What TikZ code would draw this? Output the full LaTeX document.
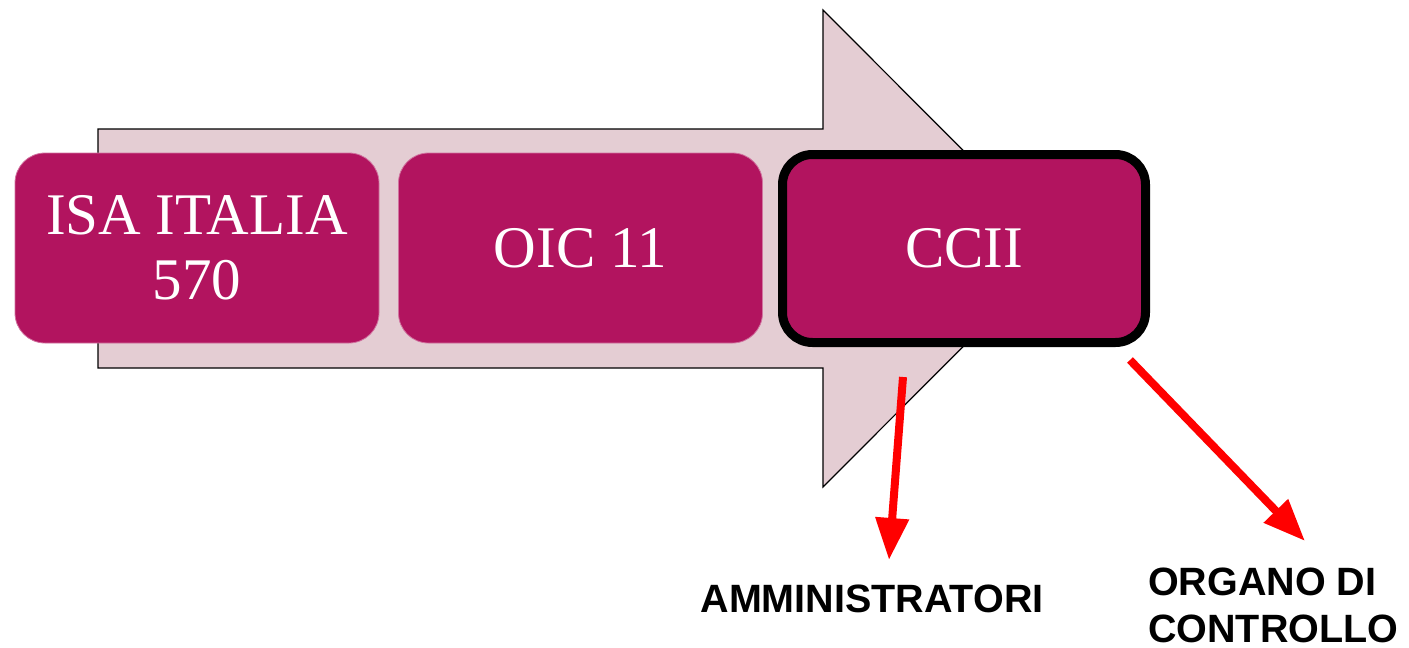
\documentclass[tikz,border=0pt]{standalone}
\usepackage{fontspec}
\setmainfont{Liberation Serif}
\newfontfamily\lsans{Liberation Sans}
\usetikzlibrary{arrows.meta}
\definecolor{boxfill}{HTML}{B2145F}
\definecolor{arrowfill}{HTML}{E4CDD3}
\definecolor{redarrow}{HTML}{FF0000}
\tikzset{
  stagebox/.style={rectangle, rounded corners=30pt, fill=boxfill, draw=boxfill!60!white, line width=0.8pt,
    minimum width=364pt, minimum height=190pt, text=white, align=center,
    font=\fontsize{59}{65}\selectfont, inner sep=0pt},
  activebox/.style={stagebox, draw=black, line width=9pt, minimum width=363pt, minimum height=188pt},
  redarr/.style={draw=redarrow, line width=8pt, -{Triangle[width=32pt,length=42pt]}},
  lbl/.style={font=\lsans\bfseries\fontsize{39.5}{47}\selectfont, inner sep=0pt, text=black}
}
\begin{document}
\begin{tikzpicture}[x=1pt,y=-1pt]
\useasboundingbox (0,0) rectangle (1409,648);
% big background arrow
\draw[fill=arrowfill, draw=black, line width=1.2pt]
  (98,129) -- (823,129) -- (823,10) -- (1061,248.5) -- (823,487) -- (823,368) -- (98,368) -- cycle;
% stages
\node[stagebox] (isa) at (197,248) {ISA ITALIA\\570};
\node[stagebox] (oic) at (580.5,248) {OIC 11};
\node[activebox] (ccii) at (964,248.5) {CCII};
% red arrows
\coordinate (a1s) at (903,377);
\coordinate (a1e) at (889,560);
\coordinate (a2s) at (1130,360);
\coordinate (a2e) at (1305,541);
\draw[redarr] (a1s) -- (a1e);
\draw[redarr] (a2s) -- (a2e);
% labels
\node[lbl, anchor=base] (amm) at (872,612) {AMMINISTRATORI};
\node[lbl, anchor=base west, align=left] (org) at (1148,642) {ORGANO DI\\CONTROLLO};
\end{tikzpicture}
\end{document}
